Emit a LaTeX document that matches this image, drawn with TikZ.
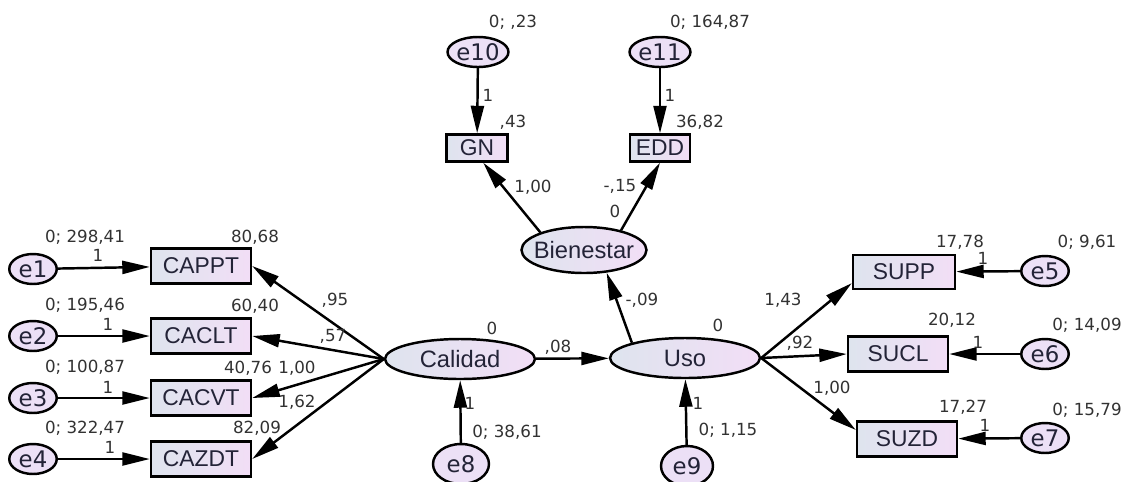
\documentclass[tikz,border=0pt]{standalone}
\usepackage{fontspec}
\setmainfont{Liberation Sans}
\newfontfamily\lblfont{DejaVu Sans}
\usetikzlibrary{positioning, arrows.meta}
\usetikzlibrary{shapes.geometric}

\begin{document}
\begin{tikzpicture}[x=0.02cm,y=-0.02cm,line width=1.4pt,
	>={Triangle[length=0.55cm,width=0.26cm]},
	obs/.style={draw,inner sep=0pt,minimum width=2cm,minimum height=0.7cm,left color={rgb,255:red,222;green,228;blue,238},right color={rgb,255:red,242;green,222;blue,246},text={rgb,255:red,35;green,35;blue,55},font=\fontsize{13}{15}\selectfont},
	lat/.style={ellipse,draw,inner xsep=-6pt,inner ysep=0pt,minimum width=3cm,minimum height=0.8cm,left color={rgb,255:red,222;green,228;blue,238},right color={rgb,255:red,242;green,222;blue,246},text={rgb,255:red,35;green,35;blue,55},font=\fontsize{13.5}{15}\selectfont},
	err/.style={ellipse,draw,inner sep=0pt,minimum width=0.95cm,minimum height=0.6cm,fill={rgb,255:red,236;green,224;blue,246},text={rgb,255:red,35;green,35;blue,55},font=\lblfont\fontsize{13}{15}\selectfont},
	num/.style={inner sep=0pt,text={rgb,255:red,50;green,50;blue,50},font=\lblfont\fontsize{9.5}{10}\selectfont}]
	\useasboundingbox (0,0) rectangle (1126,481);

	% latent variables
	\node (Calidad) at (460,359) [lat] {Calidad};
	\node (Uso) at (685,358) [lat] {Uso};
	\node (Bienestar) at (584,250) [lat,minimum width=2.5cm,minimum height=0.92cm] {Bienestar};

	% indicators
	\node (CAPPT) at (201,266) [obs] {CAPPT};
	\node (CACLT) at (201,336) [obs] {CACLT};
	\node (CACVT) at (201,398) [obs] {CACVT};
	\node (CAZDT) at (201,459) [obs] {CAZDT};
	\node (GN) at (477,148) [obs,minimum width=1.22cm,minimum height=0.54cm] {GN};
	\node (EDD) at (660,148) [obs,minimum width=1.2cm,minimum height=0.54cm] {EDD};
	\node (SUPP) at (904,272) [obs,minimum width=2.04cm,minimum height=0.68cm] {SUPP};
	\node (SUCL) at (898,354) [obs] {SUCL};
	\node (SUZD) at (907,439) [obs] {SUZD};

	% errors
	\node (e1) at (33,269) [err] {e1};
	\node (e2) at (33,336) [err] {e2};
	\node (e3) at (33,398) [err] {e3};
	\node (e4) at (33,459) [err] {e4};
	\node (e5) at (1045,271) [err] {e5};
	\node (e6) at (1045,354) [err] {e6};
	\node (e7) at (1045,438) [err] {e7};
	\node (e8) at (461,464) [err,minimum width=1.12cm,minimum height=0.8cm] {e8};
	\node (e9) at (687,466) [err,minimum width=1.04cm,minimum height=0.8cm] {e9};
	\node (e10) at (478,52) [err,minimum width=1.14cm] {e10};
	\node (e11) at (660,52) [err,minimum width=1.14cm] {e11};

	\path[->] (e1) edge (CAPPT);
	\path[->] (e2) edge (CACLT);
	\path[->] (e3) edge (CACVT);
	\path[->] (e4) edge (CAZDT);
	\path[->] (e5) edge (SUPP);
	\path[->] (e6) edge (SUCL);
	\path[->] (e7) edge (SUZD);
	\path[->] (e8) edge (Calidad);
	\path[->] (e9) edge (Uso);
	\path[->] (e10) edge (GN);
	\path[->] (e11) edge (EDD);
	\path[->] (Calidad.west) edge (CAPPT.east);
	\path[->] (Calidad.west) edge (CACLT.east);
	\path[->] (Calidad.west) edge (CACVT.east);
	\path[->] (Calidad.west) edge (CAZDT.east);
	\path[->] (Calidad) edge (Uso);
	\path[->] (Uso.164) edge (Bienestar.-45);
	\path[->] (Bienestar.158) edge (GN.-67);
	\path[->] (Bienestar.28) edge (EDD.south);
	\path[->] (Uso.east) edge (SUPP.192);
	\path[->] (Uso.east) edge (SUCL.west);
	\path[->] (Uso.east) edge (SUZD.170);

	% estimates
	\node (ve1) at (85,237) [num] {0; 298,41};
	\node (one1) at (98,255) [num] {1};
	\node (mCAPPT) at (255,237) [num] {80,68};
	\node (ve2) at (85,305) [num] {0; 195,46};
	\node (one2) at (108,324) [num] {1};
	\node (mCACLT) at (255,306) [num] {60,40};
	\node (ve3) at (85,367) [num] {0; 100,87};
	\node (one3) at (108,387) [num] {1};
	\node (mCACVT) at (248,368) [num] {40,76};
	\node (ve4) at (85,428) [num] {0; 322,47};
	\node (one4) at (110,447) [num] {1};
	\node (mCAZDT) at (257,428) [num] {82,09};
	\node (wCAPPT) at (335,300) [num] {,95};
	\node (wCACLT) at (333,336) [num] {,57};
	\node (wCACVT) at (297,368) [num] {1,00};
	\node (wCAZDT) at (297,402) [num] {1,62};

	\node (mCalidad) at (492,328) [num] {0};
	\node (wUso) at (558,347) [num] {,08};
	\node (mUso) at (718,325) [num] {0};
	\node (wBienestar) at (642,300) [num] {-,09};
	\node (one8) at (470,403) [num] {1};
	\node (ve8) at (507,432) [num] {0; 38,61};
	\node (one9) at (698,403) [num] {1};
	\node (ve9) at (728,430) [num] {0; 1,15};

	\node (ve10) at (513,22) [num] {0; ,23};
	\node (one10) at (488,95) [num] {1};
	\node (mGN) at (513,122) [num] {,43};
	\node (ve11) at (710,22) [num] {0; 164,87};
	\node (one11) at (670,95) [num] {1};
	\node (mEDD) at (700,122) [num] {36,82};
	\node (wGN) at (533,187) [num] {1,00};
	\node (wEDD) at (620,186) [num] {-,15};
	\node (mBienestar) at (615,211) [num] {0};

	\node (mSUPP) at (960,242) [num] {17,78};
	\node (ve5) at (1087,242) [num] {0; 9,61};
	\node (one5) at (983,258) [num] {1};
	\node (mSUCL) at (952,320) [num] {20,12};
	\node (ve6) at (1087,325) [num] {0; 14,09};
	\node (one6) at (978,342) [num] {1};
	\node (mSUZD) at (963,407) [num] {17,27};
	\node (ve7) at (1087,410) [num] {0; 15,79};
	\node (one7) at (985,425) [num] {1};
	\node (wSUPP) at (783,300) [num] {1,43};
	\node (wSUCL) at (800,343) [num] {,92};
	\node (wSUZD) at (832,388) [num] {1,00};
\end{tikzpicture}
\end{document}
